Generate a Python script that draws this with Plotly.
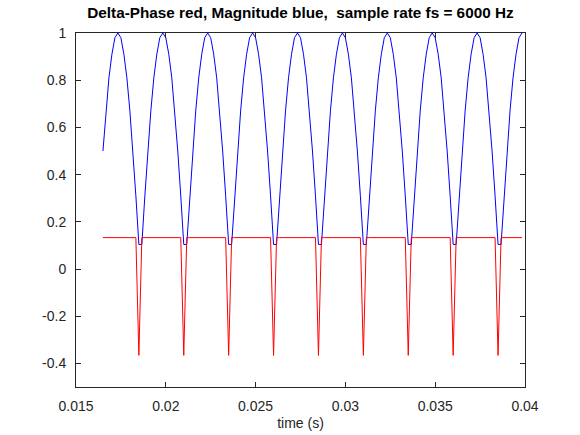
import plotly.graph_objects as go

# sample rate (from title) and index of first plotted sample
fs = 6000
first_sample = 99

# Magnitude (blue), one value per sample
magnitude = [
    0.50, 0.67, 0.81, 0.91, 0.98, 1.00, 0.98, 0.91, 0.81, 0.67, 0.50, 0.31, 0.104,
    0.104, 0.31, 0.50, 0.67, 0.81, 0.91, 0.98, 1.00, 0.98, 0.91, 0.81, 0.67, 0.50, 0.31, 0.104,
    0.104, 0.31, 0.50, 0.67, 0.81, 0.91, 0.98, 1.00, 0.98, 0.91, 0.81, 0.67, 0.50, 0.31, 0.104,
    0.104, 0.31, 0.50, 0.67, 0.81, 0.91, 0.98, 1.00, 0.98, 0.91, 0.81, 0.67, 0.50, 0.31, 0.104,
    0.104, 0.31, 0.50, 0.67, 0.81, 0.91, 0.98, 1.00, 0.98, 0.91, 0.81, 0.67, 0.50, 0.31, 0.104,
    0.104, 0.31, 0.50, 0.67, 0.81, 0.91, 0.98, 1.00, 0.98, 0.91, 0.81, 0.67, 0.50, 0.31, 0.104,
    0.104, 0.31, 0.50, 0.67, 0.81, 0.91, 0.98, 1.00, 0.98, 0.91, 0.81, 0.67, 0.50, 0.31, 0.104,
    0.104, 0.31, 0.50, 0.67, 0.81, 0.91, 0.98, 1.00, 0.98, 0.91, 0.81, 0.67, 0.50, 0.31, 0.104,
    0.104, 0.31, 0.50, 0.67, 0.81, 0.91, 0.98, 1.00, 0.98, 0.91, 0.81, 0.67, 0.50, 0.31, 0.104,
    0.104, 0.31, 0.50, 0.67, 0.81, 0.91, 0.98, 1.00,
]

# Delta-phase (red), one value per sample
delta_phase = [
    0.133, 0.133, 0.133, 0.133, 0.133, 0.133, 0.133, 0.133, 0.133, 0.133, 0.133, 0.133, -0.366,
    0.133, 0.133, 0.133, 0.133, 0.133, 0.133, 0.133, 0.133, 0.133, 0.133, 0.133, 0.133, 0.133, 0.133, -0.366,
    0.133, 0.133, 0.133, 0.133, 0.133, 0.133, 0.133, 0.133, 0.133, 0.133, 0.133, 0.133, 0.133, 0.133, -0.366,
    0.133, 0.133, 0.133, 0.133, 0.133, 0.133, 0.133, 0.133, 0.133, 0.133, 0.133, 0.133, 0.133, 0.133, -0.366,
    0.133, 0.133, 0.133, 0.133, 0.133, 0.133, 0.133, 0.133, 0.133, 0.133, 0.133, 0.133, 0.133, 0.133, -0.366,
    0.133, 0.133, 0.133, 0.133, 0.133, 0.133, 0.133, 0.133, 0.133, 0.133, 0.133, 0.133, 0.133, 0.133, -0.366,
    0.133, 0.133, 0.133, 0.133, 0.133, 0.133, 0.133, 0.133, 0.133, 0.133, 0.133, 0.133, 0.133, 0.133, -0.366,
    0.133, 0.133, 0.133, 0.133, 0.133, 0.133, 0.133, 0.133, 0.133, 0.133, 0.133, 0.133, 0.133, 0.133, -0.366,
    0.133, 0.133, 0.133, 0.133, 0.133, 0.133, 0.133, 0.133, 0.133, 0.133, 0.133, 0.133, 0.133, 0.133, -0.366,
    0.133, 0.133, 0.133, 0.133, 0.133, 0.133, 0.133, 0.133,
]

time = [(first_sample + i) / fs for i in range(len(magnitude))]

x_ticks = [0.015, 0.02, 0.025, 0.03, 0.035, 0.04]
x_tick_labels = ["0.015", "0.02", "0.025", "0.03", "0.035", "0.04"]
y_ticks = [-0.4, -0.2, 0, 0.2, 0.4, 0.6, 0.8, 1]
y_tick_labels = ["-0.4", "-0.2", "0", "0.2", "0.4", "0.6", "0.8", "1"]

title_text = "Delta-Phase red, Magnitude blue,\u00a0 sample rate fs = 6000 Hz"
x_title = "time (s)"

FONT = "Liberation Sans, Arial, Helvetica, sans-serif"
AX = "#262626"

fig = go.Figure()
fig.add_trace(go.Scatter(x=time, y=magnitude, mode="lines",
                         line=dict(color="#0000ff", width=1), showlegend=False))
fig.add_trace(go.Scatter(x=time, y=delta_phase, mode="lines",
                         line=dict(color="#ff0000", width=1), showlegend=False))

axis_common = dict(showgrid=False, zeroline=False, showline=True, linecolor=AX,
                   linewidth=1, mirror="ticks", ticks="inside", ticklen=5,
                   tickcolor=AX, tickwidth=1, automargin=False,
                   tickfont=dict(family=FONT, size=14, color=AX))

fig.update_layout(
    width=580, height=435,
    margin=dict(l=76, r=55, t=33, b=48),
    paper_bgcolor="white", plot_bgcolor="white",
    title=dict(text="<b>" + title_text + "</b>", x=0.518, xanchor="center",
               y=0.972, yanchor="middle",
               font=dict(family=FONT, size=15.3, color="black"),
               automargin=False),
    xaxis=dict(range=[0.015, 0.04], tickmode="array", tickvals=x_ticks,
               ticktext=x_tick_labels, ticklabelstandoff=6,
               title=dict(text=x_title, standoff=5,
                          font=dict(family=FONT, size=14, color=AX)),
               **axis_common),
    yaxis=dict(range=[-0.5, 1], tickmode="array", tickvals=y_ticks,
               ticktext=y_tick_labels, ticklabelstandoff=6,
               **axis_common),
)

fig.write_html("out.html")
